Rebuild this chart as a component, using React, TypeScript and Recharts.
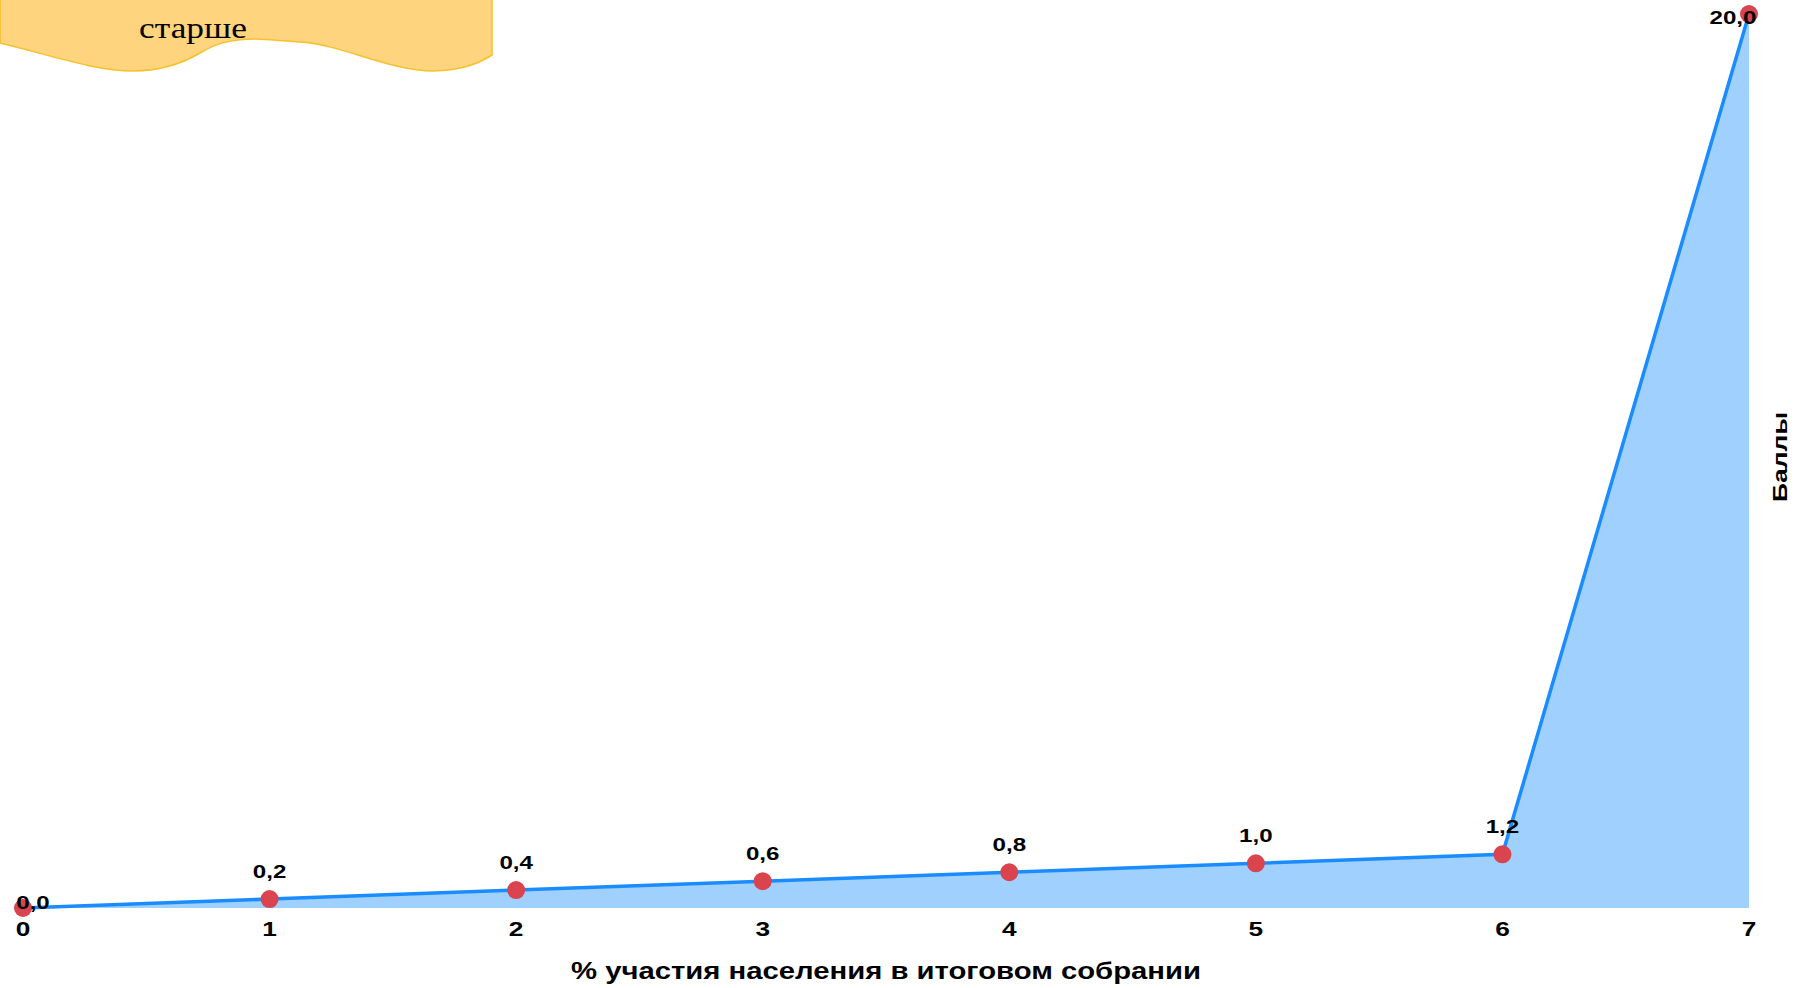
import React from 'react';
import { AreaChart, Area, XAxis, YAxis, LabelList } from 'recharts';

const participation = [0, 1, 2, 3, 4, 5, 6, 7];
const points = [0, 0.2, 0.4, 0.6, 0.8, 1.0, 1.2, 20.0];
const xTitle = '% участия населения в итоговом собрании';
const yTitle = 'Баллы';
const noteText = 'старше';

const data = participation.map((p, i) => ({ p, score: points[i] }));

const FONT = '"Liberation Sans", Arial, sans-serif';

const fmt = (v: number) => v.toFixed(1).replace('.', ',');

const XTick = (props: any) => {
  const { x, y, payload } = props;
  return (
    <text
      transform={`translate(${x},${y + 28}) scale(1.25,1)`}
      textAnchor="middle"
      fontFamily={FONT}
      fontWeight="bold"
      fontSize={21}
      fill="#000"
    >
      {payload.value}
    </text>
  );
};

const PointLabel = (props: any) => {
  const { x, y, value, index } = props;
  let dx = 0;
  let dy = -21;
  // first and last labels sit beside their point in the original
  if (index === 0) {
    dx = 10;
    dy = 1;
  } else if (index === points.length - 1) {
    dx = -16;
    dy = 10;
  }
  return (
    <text
      transform={`translate(${x + dx},${y + dy}) scale(1.27,1)`}
      textAnchor="middle"
      fontFamily={FONT}
      fontWeight="bold"
      fontSize={19}
      fill="#000"
    >
      {fmt(Number(value))}
    </text>
  );
};

const XTitle = (props: any) => {
  const { viewBox } = props;
  return (
    <text
      x={viewBox.x + viewBox.width / 2}
      y={viewBox.y + 71}
      textAnchor="middle"
      fontFamily={FONT}
      fontWeight="bold"
      fontSize={24}
      textLength={630}
      lengthAdjust="spacingAndGlyphs"
      fill="#000"
    >
      {xTitle}
    </text>
  );
};

const YTitle = (props: any) => {
  const { viewBox } = props;
  const cx = viewBox.x + viewBox.width / 2 + 3;
  const cy = viewBox.y + viewBox.height / 2 - 4;
  return (
    <text
      transform={`translate(${cx},${cy}) rotate(-90)`}
      textAnchor="middle"
      fontFamily={FONT}
      fontWeight="bold"
      fontSize={21}
      textLength={90}
      lengthAdjust="spacingAndGlyphs"
      fill="#000"
    >
      {yTitle}
    </text>
  );
};

const Note = () => (
  <svg width={500} height={80} style={{ position: 'absolute', left: 0, top: 0 }}>
    <path
      d="M0,-2 L492,-2 L492,55 C478,64 462,70 433,71 C390,71 340,44 300,42 C275,40 262,39 255,39 C230,39 215,44 200,53 C183,63 160,71 133,71 C95,71 50,55 0,43 Z"
      fill="#fed47f"
      stroke="#f6c12a"
      strokeWidth={1.5}
    />
    <text
      transform="translate(193,38) scale(1.22,1)"
      textAnchor="middle"
      fontFamily='"Liberation Serif", "Times New Roman", serif'
      fontSize={29}
      fill="#000"
    >
      {noteText}
    </text>
  </svg>
);

export default function App() {
  return (
    <div style={{ position: 'absolute', left: 0, top: 0, width: 1818, height: 988, background: '#fff' }}>
      <AreaChart
        width={1818}
        height={988}
        data={data}
        margin={{ top: 14, right: 0, left: 23, bottom: 0 }}
      >
        <XAxis
          dataKey="p"
          type="number"
          domain={[0, 7]}
          ticks={participation}
          interval={0}
          axisLine={false}
          tickLine={false}
          tickSize={0}
          tickMargin={0}
          height={80}
          tick={<XTick />}
          label={<XTitle />}
        />
        <YAxis
          orientation="right"
          domain={[0, 20]}
          width={69}
          axisLine={false}
          tickLine={false}
          tick={false}
          label={<YTitle />}
        />
        <Area
          type="linear"
          dataKey="score"
          stroke="#1a8cff"
          strokeWidth={3.5}
          fill="#9fd0fe"
          fillOpacity={1}
          dot={{ r: 9, fill: '#d9444f', stroke: 'none', strokeWidth: 0 }}
          activeDot={false}
          isAnimationActive={false}
        >
          <LabelList dataKey="score" content={<PointLabel />} />
        </Area>
      </AreaChart>
      <Note />
    </div>
  );
}
